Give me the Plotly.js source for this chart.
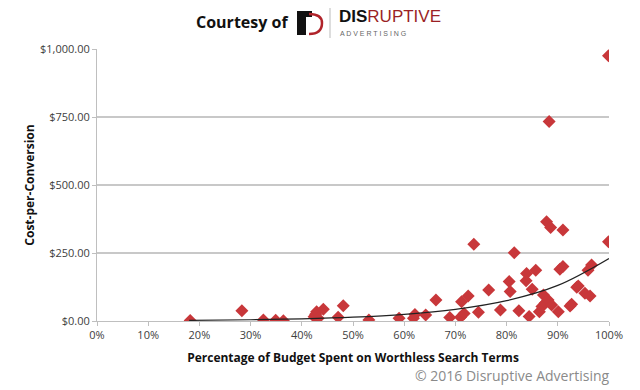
<!DOCTYPE html>
<html>
<head>
<meta charset="utf-8">
<script src="https://cdn.plot.ly/plotly-3.0.1.min.js"></script>
<style>html,body{margin:0;padding:0;background:#fff;}#chart{width:640px;height:390px;}</style>
</head>
<body>
<div id="chart"></div>
<script>
// Percentage of budget spent on worthless search terms (%)
const budgetPct = [18.2, 28.3, 32.5, 34.9, 36.4, 42.4, 42.7, 42.9, 43.2, 44.2, 47.1, 48.1, 53.1,
  59.0, 61.8, 62.1, 64.2, 66.2, 68.9, 71.0, 71.2, 71.7, 72.5, 73.6, 74.5, 76.5, 78.8,
  80.5, 80.7, 81.5, 82.4, 83.8, 83.9, 84.4, 85.0, 85.7, 86.4, 86.9, 87.2, 87.5, 87.8,
  88.1, 88.3, 88.6, 88.8, 90.1, 90.4, 91.0, 91.0, 92.4, 92.7, 93.7, 94.0, 95.3, 95.9,
  96.3, 96.6, 99.9, 99.9];
// Cost-per-conversion ($)
const costPerConv = [2, 38, 4, 3, 1, 16, 25, 34, 10, 43, 14, 56, 4,
  10, 10, 24, 22, 77, 13, 14, 71, 28, 92, 282, 32, 114, 40,
  145, 108, 251, 38, 148, 175, 17, 117, 187, 34, 53, 96, 65, 365,
  77, 733, 344, 59, 34, 190, 335, 200, 55, 62, 124, 129, 102, 187,
  92, 206, 291, 975];
// Trendline
const trendX = [18, 30, 40, 50, 60, 70, 80, 90, 100];
const trendY = [2.3, 4.6, 8.0, 14, 24.5, 43, 75, 131, 230];

const xTickVals = [0, 10, 20, 30, 40, 50, 60, 70, 80, 90, 100];
const xTickText = ['0%', '10%', '20%', '30%', '40%', '50%', '60%', '70%', '80%', '90%', '100%'];
const yTickVals = [0, 250, 500, 750, 1000];
const yTickText = ['$0.00', '$250.00', '$500.00', '$750.00', '$1,000.00'];

const traces = [
  {
    x: budgetPct, y: costPerConv, type: 'scatter', mode: 'markers',
    marker: {symbol: 'diamond', size: 10, color: '#c8373a'},
    hoverinfo: 'skip', showlegend: false
  },
  {
    x: trendX, y: trendY, type: 'scatter', mode: 'lines',
    line: {color: '#222', width: 1.2, shape: 'spline'},
    hoverinfo: 'skip', showlegend: false
  }
];

// helpers: pixel -> paper
const px = p => (p - 97) / 512;
const py = p => (321 - p) / 272;

const layout = {
  width: 640, height: 390,
  margin: {l: 97, r: 31, t: 49, b: 69},
  paper_bgcolor: '#fff', plot_bgcolor: '#fff',
  font: {family: 'Open Sans, Liberation Sans, sans-serif', size: 11, color: '#404040'},
  xaxis: {
    range: [0, 100], tickmode: 'array', tickvals: xTickVals, ticktext: xTickText,
    showgrid: false, zeroline: false, showline: true, linecolor: '#bfbfbf', linewidth: 1,
    ticks: 'outside', ticklen: 4, tickcolor: '#bfbfbf',
    tickfont: {size: 11, color: '#404040'},
    title: {text: '<b>Percentage of Budget Spent on Worthless Search Terms</b>', font: {size: 12, color: '#111'}, standoff: 12}
  },
  yaxis: {
    range: [0, 1000], tickmode: 'array', tickvals: yTickVals, ticktext: yTickText,
    showgrid: true, gridcolor: '#c8c8c8', gridwidth: 1.5, zeroline: false,
    showline: true, linecolor: '#bfbfbf', linewidth: 1,
    ticks: 'outside', ticklen: 4, tickcolor: '#bfbfbf',
    tickfont: {size: 11, color: '#404040'},
    title: {text: '<b>Cost-per-Conversion</b>', font: {size: 12, color: '#111'}, standoff: 2}
  },
  shapes: [
    {type: 'path', xref: 'paper', yref: 'paper', fillcolor: '#111', line: {width: 0},
     path: `M ${px(297)} ${py(11)} L ${px(312)} ${py(11)} L ${px(312)} ${py(17)} L ${px(306)} ${py(17)} L ${px(306)} ${py(35)} L ${px(297)} ${py(35)} Z`},
    {type: 'path', xref: 'paper', yref: 'paper', fillcolor: 'rgba(0,0,0,0)', line: {color: '#b0232a', width: 2.5},
     path: `M ${px(309)} ${py(14)} Q ${px(322)} ${py(14)} ${px(322)} ${py(23)} Q ${px(322)} ${py(34)} ${px(309)} ${py(34)}`},
    {type: 'line', xref: 'paper', yref: 'paper', x0: px(330), x1: px(330), y0: py(8), y1: py(38), line: {color: '#bbb', width: 1}}
  ],
  annotations: [
    {xref: 'paper', yref: 'paper', x: px(290), y: py(22), xanchor: 'right', yanchor: 'middle', showarrow: false,
     text: '<b>Courtesy of</b>', font: {family: 'Open Sans, sans-serif', size: 16, color: '#111'}},
    {xref: 'paper', yref: 'paper', x: px(337), y: py(17), xanchor: 'left', yanchor: 'middle', showarrow: false,
     text: '<b>DIS</b><span style="color:#9b1f25">RUPTIVE</span>', font: {family: 'Liberation Sans, sans-serif', size: 17, color: '#111'}},
    {xref: 'paper', yref: 'paper', x: px(338), y: py(33), xanchor: 'left', yanchor: 'middle', showarrow: false,
     text: 'A D V E R T I S I N G', font: {family: 'Liberation Sans, sans-serif', size: 7, color: '#666'}},
    {xref: 'paper', yref: 'paper', x: px(612), y: py(375), xanchor: 'right', yanchor: 'middle', showarrow: false,
     text: '© 2016 Disruptive Advertising', font: {family: 'Open Sans, sans-serif', size: 14, color: '#8a8a8a'}}
  ]
};

Plotly.newPlot('chart', traces, layout, {displayModeBar: false, staticPlot: true});
</script>
</body>
</html>
